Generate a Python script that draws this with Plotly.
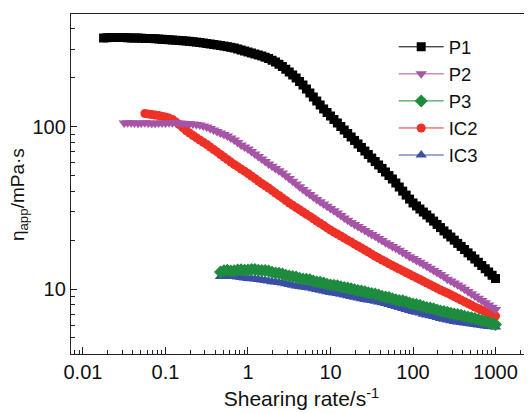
import plotly.graph_objects as go

# shear-rate grid (s^-1), 24 points per decade
shear_rate = [
    0.01778, 0.01957, 0.02154, 0.02371, 0.02610, 0.02873, 0.03162, 0.03481, 0.03831, 0.04217, 0.04642,
    0.05109, 0.05623, 0.06190, 0.06813, 0.07499, 0.08254, 0.09085,
    0.1, 0.1101, 0.1212, 0.1334, 0.1468, 0.1616, 0.1778, 0.1957, 0.2154, 0.2371, 0.2610, 0.2873,
    0.3162, 0.3481, 0.3831, 0.4217, 0.4642, 0.5109, 0.5623, 0.6190, 0.6813, 0.7499, 0.8254, 0.9085,
    1.0, 1.101, 1.212, 1.334, 1.468, 1.616, 1.778, 1.957, 2.154, 2.371, 2.610, 2.873,
    3.162, 3.481, 3.831, 4.217, 4.642, 5.109, 5.623, 6.190, 6.813, 7.499, 8.254, 9.085,
    10.0, 11.01, 12.12, 13.34, 14.68, 16.16, 17.78, 19.57, 21.54, 23.71, 26.10, 28.73,
    31.62, 34.81, 38.31, 42.17, 46.42, 51.09, 56.23, 61.90, 68.13, 74.99, 82.54, 90.85,
    100.0, 110.1, 121.2, 133.4, 146.8, 161.6, 177.8, 195.7, 215.4, 237.1, 261.0, 287.3,
    316.2, 348.1, 383.1, 421.7, 464.2, 510.9, 562.3, 619.0, 681.3, 749.9, 825.4, 908.5, 1000.0]

P1 = [352, 353.5, 354.5, 354.5, 354.5, 354.5, 354.5, 353, 352, 352, 352, 351, 349.6, 349.6, 349.6, 348.3,
      347, 345.8, 344.6, 343.3, 342.1, 340.9, 339.7, 338.5, 337.3, 335.6, 334, 332.1, 330.3, 328, 325.6,
      323.3, 321.1, 318.8, 316.5, 313.8, 311.2, 308.3, 305.5, 301.2, 296.9, 292.7, 288.6, 284.5, 280.5,
      276.6, 272.7, 267.9, 263.2, 256.7, 250.4, 242.5, 234.9, 226, 217.3, 208.3, 199.6, 189.9, 180.7,
      170.7, 161.3, 152.4, 144.0, 136.1, 128.6, 122.3, 116.4, 110.8, 105.4, 100.3, 95.4, 90.8, 86.4,
      82.3, 78.3, 74.5, 70.8, 67.4, 64.1, 61.0, 58.1, 55.3, 52.6, 50.0, 47.6, 45.0, 42.5, 40.1, 37.9,
      35.8, 33.9, 32.5, 31.1, 29.8, 28.6, 27.4, 26.2, 25.0, 23.9, 22.8, 21.8, 20.9, 20.0, 19.1, 18.3,
      17.5, 16.7, 16.0, 15.3, 14.6, 13.96, 13.33, 12.73, 12.15, 11.6]

P2 = [105.4, 105.7, 105.9, 105.5, 105.2, 105.4, 105.6, 105.3, 105.0, 105.2, 105.5, 105.4, 105.3, 105.6,
      105.8, 105.6, 105.4, 105.0, 104.6, 104.3, 103.9, 103.2, 102.4, 101.0, 99.6, 97.5, 95.4, 93.4,
      91.5, 89.5, 87.6, 85.2, 82.8, 79.9, 77.1, 75.0, 72.9, 70.4, 67.9, 65.5, 63.2, 61.0, 58.9, 57.1,
      55.3, 53.5, 51.8, 49.8, 47.95, 46.1, 44.4, 42.7, 41.0, 39.6, 38.2, 36.9, 35.6, 34.5, 33.4, 32.3,
      31.3, 30.3, 29.4, 28.4, 27.4, 26.5, 25.7, 25.0, 24.3, 23.6, 22.9, 22.3, 21.7, 21.1, 20.5, 19.9,
      19.3, 18.8, 18.3, 17.8, 17.3, 16.8, 16.3, 15.8, 15.4, 15.0, 14.6, 14.2, 13.8, 13.4, 13.0, 12.65,
      12.3, 11.9, 11.5, 11.2, 10.9, 10.6, 10.3, 9.97, 9.65, 9.35, 9.05, 8.77, 8.49, 8.23, 7.97, 7.72, 7.48]

P3 = [12.73, 12.95, 13.05, 12.9, 12.95, 13.1, 13.15, 13.05, 13.1, 13.2, 13.2, 13.05, 12.98, 13.0, 12.9,
      12.7, 12.55, 12.5, 12.35, 12.15, 12.02, 11.95, 11.85, 11.65, 11.52, 11.5, 11.4, 11.2, 11.04, 11.0,
      10.9, 10.7, 10.58, 10.55, 10.48, 10.32, 10.21, 10.15, 10.05, 9.9, 9.79, 9.72, 9.62, 9.48, 9.38,
      9.3, 9.18, 9.03, 8.93, 8.85, 8.72, 8.6, 8.50, 8.45, 8.36, 8.2, 8.08, 8.03, 7.95, 7.8, 7.69, 7.65,
      7.56, 7.42, 7.32, 7.27, 7.18, 7.08, 7.01, 6.97, 6.89, 6.8, 6.72, 6.66, 6.58, 6.48, 6.40, 6.32,
      6.22, 6.12, 6.04]

IC2 = [120.6, 119.7, 118.9, 118.0, 117.2, 116.1, 114.8, 113.0, 110.7, 107.0, 103.2, 98.9, 94.8, 91.5,
       88.3, 85.5, 82.8, 80.2, 77.7, 75.0, 72.4, 69.9, 67.4, 65.1, 62.8, 60.6, 58.5, 56.7, 54.9, 53.2,
       51.5, 49.7, 47.95, 46.3, 44.7, 43.3, 41.9, 40.4, 39.0, 37.7, 36.4, 35.1, 33.9, 32.8, 31.8, 30.8,
       29.8, 28.9, 28.0, 27.1, 26.2, 25.4, 24.6, 23.8, 23.1, 22.4, 21.8, 21.2, 20.6, 20.0, 19.5, 18.9,
       18.4, 17.9, 17.4, 16.9, 16.4, 15.9, 15.5, 15.1, 14.7, 14.3, 13.96, 13.62, 13.28, 12.96, 12.64,
       12.33, 12.02, 11.73, 11.44, 11.16, 10.89, 10.62, 10.36, 10.11, 9.86, 9.65, 9.45, 9.22, 8.99,
       8.77, 8.56, 8.35, 8.14, 7.94, 7.75, 7.58, 7.42, 7.26, 7.11, 6.96, 6.82]

IC3 = [11.94, 12.0, 12.02, 11.98, 11.94, 11.85, 11.77, 11.7, 11.61, 11.55, 11.52, 11.43, 11.36, 11.3,
       11.20, 11.1, 11.04, 10.98, 10.89, 10.76, 10.66, 10.55, 10.43, 10.37, 10.29, 10.2, 10.14, 10.03,
       9.93, 9.83, 9.72, 9.61, 9.52, 9.45, 9.38, 9.28, 9.18, 9.08, 8.99, 8.88, 8.80, 8.7, 8.61, 8.56,
       8.50, 8.4, 8.32, 8.22, 8.14, 8.02, 7.91, 7.8, 7.69, 7.58, 7.48, 7.37, 7.27, 7.2, 7.11, 7.0, 6.92,
       6.85, 6.77, 6.67, 6.58, 6.51, 6.44, 6.37, 6.31, 6.27, 6.22, 6.18, 6.13, 6.09, 6.04, 6.0, 5.96,
       5.91, 5.87, 5.85, 5.83]

x_ticks = [0.01, 0.1, 1, 10, 100, 1000]
x_ticktext = ["0.01", "0.1", "1", "10", "100", "1000"]
y_ticks = [10, 100]
y_ticktext = ["10", "100"]

FONT = "Arial, Liberation Sans, sans-serif"

series = [
    # name, values, colour, symbol, size, legend rank  (drawn in this order)
    ("IC3", IC3, "#3a4ea6", "triangle-up", 10, 5),
    ("IC2", IC2, "#ee3127", "circle", 9, 4),
    ("P3", P3, "#1e8c3e", "diamond", 10, 3),
    ("P2", P2, "#a655a6", "triangle-down", 10, 2),
    ("P1", P1, "#000000", "square", 9, 1),
]

fig = go.Figure()
for name, vals, col, sym, size, rank in series:
    xs = shear_rate[len(shear_rate) - len(vals):]
    fig.add_trace(go.Scatter(
        x=xs, y=vals, name=name, mode="lines+markers", legendrank=rank,
        line=dict(color=col, width=1),
        marker=dict(symbol=sym, size=size, color=col, line=dict(width=0)),
    ))

# the page body has an 8px margin, so the figure is sized/margined to compensate
fig.update_layout(
    width=524, height=405,
    margin=dict(l=63, r=0, t=6, b=59),
    paper_bgcolor="white", plot_bgcolor="white",
    font=dict(family=FONT, size=19, color="#111"),
    showlegend=True,
    legend=dict(x=0.7, y=0.958, xanchor="left", yanchor="top", bgcolor="rgba(0,0,0,0)",
                font=dict(family=FONT, size=18.5, color="#111"), itemwidth=45),
    annotations=[dict(
        text="η<sub>app</sub>/mPa·s", textangle=-90, xref="paper", yref="paper",
        x=-0.113, y=0.47, xanchor="center", yanchor="middle", showarrow=False,
        font=dict(family=FONT, size=19, color="#111"),
    )],
)
fig.update_xaxes(
    type="log", range=[-2.145, 3.442],
    tickmode="array", tickvals=x_ticks, ticktext=x_ticktext,
    ticks="inside", ticklen=7, tickwidth=1, tickcolor="#222",
    minor=dict(ticks="inside", ticklen=4, tickwidth=1, tickcolor="#222", dtick="D1", showgrid=False),
    showline=True, linecolor="#222", linewidth=1.3, mirror=True, showgrid=False, zeroline=False,
    tickfont=dict(family=FONT, size=20, color="#111"),
    title=dict(text="Shearing rate/s<sup>-1</sup>", font=dict(family=FONT, size=21, color="#111"), standoff=9),
)
fig.update_yaxes(
    type="log", range=[0.5995, 2.6944],
    tickmode="array", tickvals=y_ticks, ticktext=y_ticktext,
    ticks="inside", ticklen=6, tickwidth=1, tickcolor="#222",
    minor=dict(ticks="inside", ticklen=4, tickwidth=1, tickcolor="#222", dtick="D1", showgrid=False),
    showline=True, linecolor="#222", linewidth=1.3, mirror=False, showgrid=False, zeroline=False,
    tickfont=dict(family=FONT, size=20, color="#111"),
)

fig.write_html("out.html")
